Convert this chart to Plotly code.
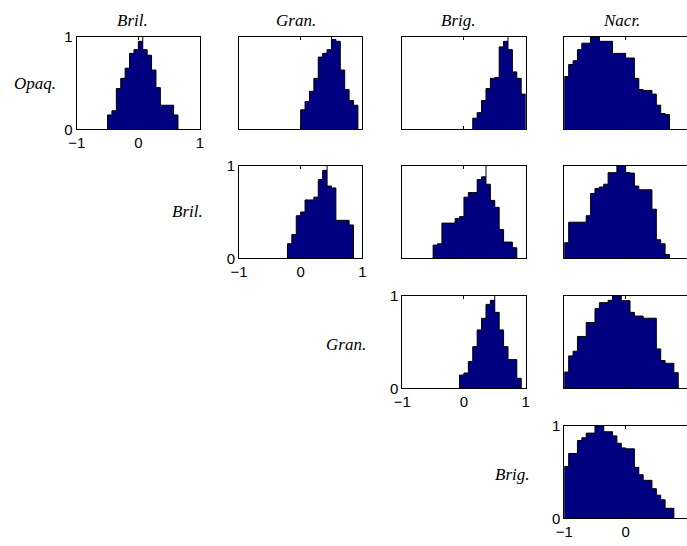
import plotly.graph_objects as go

W, H = 687, 546

# 28 equal bins on [-1, 1]
BIN_LEFT = [-1.0, -0.9286, -0.8571, -0.7857, -0.7143, -0.6429, -0.5714, -0.5,
            -0.4286, -0.3571, -0.2857, -0.2143, -0.1429, -0.0714, 0.0, 0.0714,
            0.1429, 0.2143, 0.2857, 0.3571, 0.4286, 0.5, 0.5714, 0.6429,
            0.7143, 0.7857, 0.8571, 0.9286]
BIN_WIDTH = 0.0714

COL_LABELS = ["Bril.", "Gran.", "Brig.", "Nacr."]
ROW_LABELS = ["Opaq.", "Bril.", "Gran.", "Brig."]

# normalized histogram heights (first non-empty bin index, heights, marker x)
opaq_bril_start = 7
opaq_bril = [0.155, 0.20, 0.44, 0.55, 0.66, 0.82, 0.86, 0.95, 0.86, 0.80, 0.64,
             0.45, 0.26, 0.26, 0.26, 0.155]
opaq_bril_mark = 0.0714

opaq_gran_start = 14
opaq_gran = [0.21, 0.30, 0.41, 0.55, 0.78, 0.82, 0.86, 0.97, 0.95, 0.64, 0.43,
             0.31, 0.26]
opaq_gran_mark = 0.5

opaq_brig_start = 16
opaq_brig = [0.12, 0.18, 0.31, 0.44, 0.55, 0.56, 0.89, 0.95, 0.86, 0.62, 0.55, 0.38]
opaq_brig_mark = 0.7143

opaq_nacr_start = 0
opaq_nacr = [0.57, 0.70, 0.74, 0.86, 0.93, 0.93, 1.0, 1.0, 0.95, 0.95, 0.95, 0.82,
             0.82, 0.82, 0.77, 0.77, 0.55, 0.43, 0.42, 0.42, 0.38, 0.26, 0.17, 0.16]
opaq_nacr_mark = None

bril_bril_start = 11
bril_bril = [0.157, 0.257, 0.46, 0.50, 0.63, 0.63, 0.66, 0.85, 0.95, 0.78, 0.76,
             0.41, 0.41, 0.41, 0.36]
bril_bril_mark = 0.4286

bril_brig_start = 7
bril_brig = [0.143, 0.157, 0.38, 0.38, 0.38, 0.43, 0.45, 0.66, 0.71, 0.71, 0.85,
             0.88, 0.80, 0.625, 0.55, 0.31, 0.175, 0.175, 0.114]
bril_brig_mark = 0.3571

bril_nacr_start = 0
bril_nacr = [0.168, 0.39, 0.39, 0.39, 0.39, 0.46, 0.70, 0.755, 0.77, 0.80, 0.925,
             0.925, 1.0, 1.0, 0.925, 0.92, 0.78, 0.74, 0.74, 0.74, 0.53, 0.20,
             0.157, 0.04]
bril_nacr_mark = None

gran_gran_start = 13
gran_gran = [0.144, 0.165, 0.29, 0.45, 0.63, 0.755, 0.906, 0.95, 0.82, 0.63, 0.45,
             0.31, 0.31, 0.108]
gran_gran_mark = 0.5

gran_nacr_start = 0
gran_nacr = [0.175, 0.35, 0.40, 0.56, 0.56, 0.71, 0.71, 0.86, 0.925, 0.925, 0.95,
             1.0, 1.0, 0.946, 0.946, 0.82, 0.78, 0.78, 0.757, 0.757, 0.757, 0.425,
             0.30, 0.27, 0.27, 0.168]
gran_nacr_mark = None

brig_nacr_start = 0
brig_nacr = [0.56, 0.70, 0.70, 0.84, 0.87, 0.92, 0.92, 1.0, 1.0, 0.935, 0.935,
             0.89, 0.81, 0.76, 0.75, 0.75, 0.55, 0.47, 0.41, 0.41, 0.32, 0.25,
             0.20, 0.108, 0.108]
brig_nacr_mark = None

PANELS = {
    (0, 0): (opaq_bril_start, opaq_bril, opaq_bril_mark),
    (0, 1): (opaq_gran_start, opaq_gran, opaq_gran_mark),
    (0, 2): (opaq_brig_start, opaq_brig, opaq_brig_mark),
    (0, 3): (opaq_nacr_start, opaq_nacr, opaq_nacr_mark),
    (1, 1): (bril_bril_start, bril_bril, bril_bril_mark),
    (1, 2): (bril_brig_start, bril_brig, bril_brig_mark),
    (1, 3): (bril_nacr_start, bril_nacr, bril_nacr_mark),
    (2, 2): (gran_gran_start, gran_gran, gran_gran_mark),
    (2, 3): (gran_nacr_start, gran_nacr, gran_nacr_mark),
    (3, 3): (brig_nacr_start, brig_nacr, brig_nacr_mark),
}

# layout in pixels
COL_LEFT = [76.7, 239.0, 402.3, 564.3]
ROW_TOP = [36.7, 165.7, 295.7, 425.7]
PW, PH = 123.3, 92.6

NAVY = "#000080"
TICK_FONT = dict(family='"Liberation Sans", Arial, Helvetica, sans-serif', size=15,
                 color="black")
LABEL_FONT = dict(family='"Liberation Serif", "Times New Roman", Times, serif',
                  size=17, color="black", style="italic")

fig = go.Figure()
layout = {}

for n, ((r, c), (start, heights, mark)) in enumerate(PANELS.items(), start=1):
    xa = "x" if n == 1 else f"x{n}"
    ya = "y" if n == 1 else f"y{n}"
    xs = [BIN_LEFT[start]]
    ys = [0]
    for i, h in enumerate(heights):
        xs.append(BIN_LEFT[start + i])
        ys.append(h)
    x_end = BIN_LEFT[start + len(heights) - 1] + BIN_WIDTH
    xs += [x_end, x_end]
    ys += [heights[-1], 0]
    fig.add_trace(go.Scatter(x=xs, y=ys, mode="lines", line_shape="hv",
                             fill="toself", fillcolor=NAVY,
                             line=dict(color="black", width=1),
                             xaxis=xa, yaxis=ya, hoverinfo="skip", showlegend=False))
    if mark is not None:
        k = min(range(len(BIN_LEFT)), key=lambda j: abs(BIN_LEFT[j] - mark))
        side = [heights[j - start] for j in (k - 1, k)
                if 0 <= j - start < len(heights)]
        base = max(side) if side else 0
        fig.add_trace(go.Scatter(x=[mark, mark], y=[base, 1], mode="lines",
                                 line=dict(color="black", width=1),
                                 xaxis=xa, yaxis=ya, hoverinfo="skip", showlegend=False))
    x0 = COL_LEFT[c] / W
    x1 = min((COL_LEFT[c] + PW) / W, 1.0)
    y1 = 1 - ROW_TOP[r] / H
    y0 = 1 - (ROW_TOP[r] + PH) / H
    diag = (r == c)
    common = dict(showgrid=False, zeroline=False, showline=True, linecolor="black",
                  linewidth=1, mirror="ticks", ticks="inside", ticklen=3,
                  tickcolor="black", tickfont=TICK_FONT, automargin=False)
    xkey = "xaxis" if n == 1 else f"xaxis{n}"
    ykey = "yaxis" if n == 1 else f"yaxis{n}"
    layout[xkey] = dict(common, domain=[x0, x1], range=[-1, 1], anchor=ya,
                        tickvals=[-1, 0, 1], showticklabels=diag, fixedrange=True)
    ydict = dict(common, domain=[y0, y1], range=[0, 1], anchor=xa,
                 tickvals=[0, 1], showticklabels=diag, fixedrange=True)
    if c == 3:
        # right edge of the last column lies outside the visible window
        ydict["mirror"] = False
    layout[ykey] = ydict

annotations = []
TITLE_X = [132, 296, 458, 621]
for c, lab in enumerate(COL_LABELS):
    annotations.append(dict(text=lab, x=TITLE_X[c] / W, y=1 - 21 / H, xref="paper",
                            yref="paper", showarrow=False, xanchor="center",
                            yanchor="middle", font=LABEL_FONT))
ROW_POS = [(35, 83), (187, 212), (346, 344), (512, 474)]
for r, lab in enumerate(ROW_LABELS):
    px, py = ROW_POS[r]
    annotations.append(dict(text=lab, x=px / W, y=1 - py / H, xref="paper",
                            yref="paper", showarrow=False, xanchor="center",
                            yanchor="middle", font=LABEL_FONT))

fig.update_layout(width=W, height=H, margin=dict(l=0, r=0, t=0, b=0, pad=0),
                  autosize=False, paper_bgcolor="white", plot_bgcolor="white",
                  annotations=annotations, showlegend=False, **layout)

fig.write_html("out.html", config={"displayModeBar": False})
